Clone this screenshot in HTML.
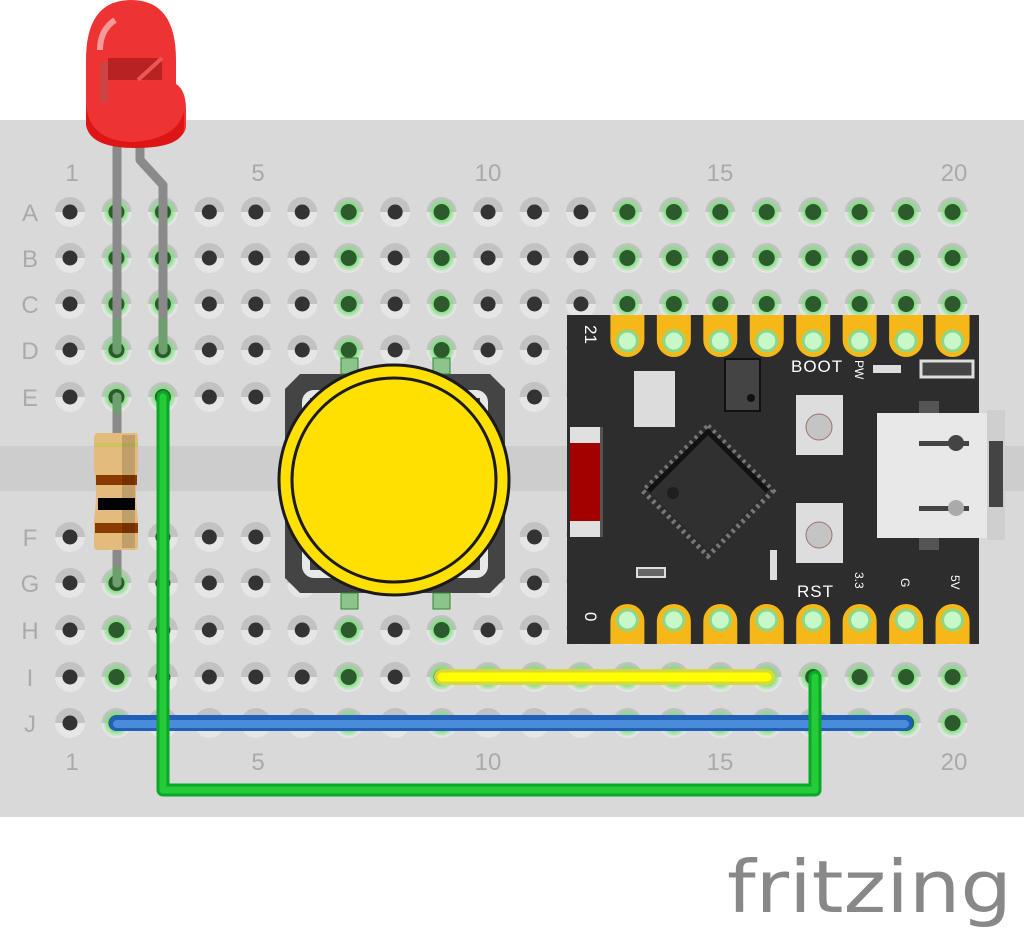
<!DOCTYPE html>
<html><head><meta charset="utf-8"><style>
html,body{margin:0;padding:0;background:#fff;width:1024px;height:936px;overflow:hidden}
svg{display:block}
</style></head><body>
<svg id="s" width="1024" height="936" viewBox="0 0 1024 936" xmlns="http://www.w3.org/2000/svg" font-family="Liberation Sans, DejaVu Sans, sans-serif">
<defs>
<linearGradient id="hg" x1="0" y1="0" x2="0" y2="1"><stop offset="0.5" stop-color="#c2c2c2"/><stop offset="0.5" stop-color="#e6e6e6"/></linearGradient>
<radialGradient id="gg"><stop offset="0.55" stop-color="#7ee07e"/><stop offset="1" stop-color="#7ee07e" stop-opacity="0"/></radialGradient>
</defs>
<rect x="0" y="120" width="1024" height="697" fill="#d9d9d9"/>
<rect x="0" y="446" width="1024" height="45" fill="#cdcdcd"/>
<g id="holes"></g>
<g fill="#aaaaaa" font-size="24" text-anchor="middle" id="labels">
<text x="72" y="181">1</text><text x="258" y="181">5</text><text x="488" y="181">10</text><text x="720" y="181">15</text><text x="954" y="181">20</text>
<text x="72" y="770">1</text><text x="258" y="770">5</text><text x="488" y="770">10</text><text x="720" y="770">15</text><text x="954" y="770">20</text>
<text x="30" y="221">A</text><text x="30" y="267">B</text><text x="30" y="313">C</text><text x="30" y="359">D</text><text x="30" y="406">E</text>
<text x="30" y="546">F</text><text x="30" y="592">G</text><text x="30" y="639">H</text><text x="30" y="686">I</text><text x="30" y="732">J</text>
</g>

<!-- button -->
<path d="M300 374 H490 L505 389 V578 L490 593 H300 L285 578 V389 Z" fill="#444"/>
<rect x="302" y="390" width="186" height="188" rx="12" fill="#e8e8e8"/>
<rect x="310" y="398" width="170" height="172" fill="#444"/>
<rect x="341" y="358" width="17" height="16" fill="#8cc48c" stroke="#2c8c2c" stroke-width="1"/>
<rect x="433" y="358" width="17" height="16" fill="#8cc48c" stroke="#2c8c2c" stroke-width="1"/>
<rect x="341" y="593" width="17" height="16" fill="#8cc48c" stroke="#2c8c2c" stroke-width="1"/>
<rect x="433" y="593" width="17" height="16" fill="#8cc48c" stroke="#2c8c2c" stroke-width="1"/>
<circle cx="394" cy="480" r="115" fill="#ffe000" stroke="#1a1a1a" stroke-width="3"/>
<circle cx="394" cy="480" r="102" fill="#ffe000" stroke="#1a1a1a" stroke-width="3"/>

<!-- board -->
<rect x="567" y="315" width="412" height="329" fill="#2d2d2d"/>
<g id="pads"></g>
<rect x="570" y="427" width="30" height="110" fill="#e0e0e0"/>
<rect x="570" y="443" width="30" height="78" fill="#a30000"/>
<rect x="600" y="427" width="3" height="110" fill="#555"/>
<rect x="634" y="371" width="41" height="56" fill="#dcdcdc"/>
<rect x="725" y="359" width="35" height="52" fill="#444" stroke="#111" stroke-width="2"/>
<circle cx="751" cy="398" r="4" fill="#111"/>
<g transform="rotate(45 708 491)">
<rect x="662" y="445" width="92" height="92" fill="#2a2a2a" stroke="#777" stroke-width="5" stroke-dasharray="3 4"/>
<rect x="666" y="449" width="84" height="84" fill="#303030"/>
<path d="M666 533 V449 H750" stroke="#111" stroke-width="5" fill="none"/>
</g>
<circle cx="673" cy="493" r="6" fill="#1e1e1e"/>
<rect x="796" y="395" width="47" height="60" fill="#ddd"/>
<circle cx="819" cy="427" r="13" fill="#c4c4c4" stroke="#a07070" stroke-width="1"/>
<rect x="796" y="503" width="47" height="60" fill="#ddd"/>
<circle cx="819" cy="535" r="13" fill="#c4c4c4" stroke="#a07070" stroke-width="1"/>
<rect x="919" y="401" width="20" height="14" fill="#555"/>
<rect x="919" y="536" width="20" height="14" fill="#555"/>
<rect x="877" y="413" width="112" height="125" fill="#e8e8e8"/>
<rect x="987" y="410" width="18" height="130" fill="#cfcfcf"/>
<rect x="989" y="441" width="14" height="66" fill="#444"/>
<rect x="919" y="441" width="50" height="5" fill="#444"/>
<rect x="919" y="506" width="50" height="5" fill="#444"/>
<circle cx="956" cy="443" r="8" fill="#444"/><circle cx="956" cy="508" r="8" fill="#aaa"/>
<rect x="873" y="365" width="28" height="8" fill="#ddd"/>
<rect x="921" y="361" width="52" height="16" fill="#444" stroke="#ddd" stroke-width="3"/>
<rect x="637" y="568" width="28" height="9" fill="#666" stroke="#ddd" stroke-width="2"/>
<rect x="770" y="550" width="7" height="30" fill="#ddd"/>
<g fill="#fff" font-size="17">
<text x="791" y="372" letter-spacing="1">BOOT</text>
<text x="797" y="597" letter-spacing="1">RST</text>
<text transform="translate(585,325) rotate(90)" font-size="17">21</text>
<text transform="translate(585,612) rotate(90)" font-size="17">0</text>
<text transform="translate(855,572) rotate(90)" font-size="12">3.3</text>
<text transform="translate(901,578) rotate(90)" font-size="12">G</text>
<text transform="translate(951,575) rotate(90)" font-size="12">5V</text>
<text transform="translate(855,360) rotate(90)" font-size="12">PW</text>
</g>

<!-- LED legs -->
<g stroke-linecap="round" fill="none">
<path d="M117 140 V350" stroke="#8a8a8a" stroke-width="9"/>
<path d="M140 140 V160 L163 185 V350" stroke="#8a8a8a" stroke-width="9" stroke-linejoin="round"/>
<path d="M117 322 V350" stroke="#6e9f6e" stroke-width="9"/>
<path d="M163 322 V350" stroke="#6e9f6e" stroke-width="9"/>
<path d="M117 397 V583" stroke="#8a8a8a" stroke-width="9"/>
<path d="M117 397 V410" stroke="#6e9f6e" stroke-width="9"/>
<path d="M117 570 V583" stroke="#6e9f6e" stroke-width="9"/>
</g>
<!-- resistor -->
<path d="M97 433 H136 Q138 433 138 440 V470 Q134 490 138 520 V546 Q138 550 134 550 H98 Q94 550 94 546 V520 Q98 490 94 470 V440 Q94 433 97 433Z" fill="#e3bb7d"/>
<rect x="95" y="443" width="43" height="4" fill="#cfc060"/>
<rect x="96" y="475" width="41" height="10" fill="#8a3a00"/>
<rect x="98" y="498" width="37" height="12" fill="#000"/>
<rect x="95" y="523" width="43" height="10" fill="#8a3a00"/>
<rect x="122" y="435" width="13" height="113" fill="#000" opacity="0.15"/>

<!-- LED -->
<path d="M86 60 Q86 0 131 0 Q176 0 176 60 V84 Q186 90 186 110 V125 Q186 145 140 147 Q95 148 86 125 Z" fill="#e33"/>
<path d="M86 100 Q86 140 131 142 Q176 140 184 112 V130 Q180 148 135 148 Q90 148 86 125Z" fill="#dd1515"/>
<path d="M100 50 Q100 30 115 20" stroke="#f59a9a" stroke-width="6" fill="none"/>
<rect x="108" y="58" width="54" height="22" fill="#b82222"/>
<rect x="100" y="62" width="8" height="40" fill="#c44"/>
<path d="M138 80 L162 58" stroke="#e55" stroke-width="4"/>

<!-- wires -->
<g stroke-linecap="round" fill="none" stroke-linejoin="round">
<path d="M442 677 H767" stroke="#d8d83a" stroke-width="16"/>
<path d="M442 677 H767" stroke="#ffff00" stroke-width="9"/>
<path d="M117 723 H905" stroke="#2060b8" stroke-width="16"/>
<path d="M117 724 H905" stroke="#4a8cd8" stroke-width="8"/>
<path d="M163 397 V790 H815 V677" stroke="#0aa828" stroke-width="13"/>
<path d="M163 397 V790 H815 V677" stroke="#25cc3a" stroke-width="7"/>
</g>

<text x="727" y="912" font-size="72" fill="#888" textLength="285" lengthAdjust="spacingAndGlyphs" font-family="DejaVu Sans, Liberation Sans, sans-serif">fritzing</text>
</svg>
<script>
(function(){
var ns="http://www.w3.org/2000/svg";
var rows=[212,258,304,350,397,537,583,630,677,723];
var g=document.getElementById('holes');
function green(c,r){
 if(c==2||c==9) {if(r<5) return true; return r>=6;}
 if(c==3) return r<5;
 if(c==7) return r<5||r>=7;
 if(c>=13) return r<3||r>=7;
 if(r==8 && c>=10 && c<=16) return true;
 return false;
}
function el(t,a){var e=document.createElementNS(ns,t);for(var k in a)e.setAttribute(k,a[k]);g.appendChild(e);return e;}
for(var c=1;c<=20;c++){var x=70+(c-1)*46.45;
 for(var r=0;r<10;r++){var y=rows[r];
  el('circle',{cx:x,cy:y,r:15,fill:'url(#hg)'});
  if(green(c,r)){el('circle',{cx:x,cy:y,r:14,fill:'url(#gg)'});el('circle',{cx:x,cy:y,r:8,fill:'#2c5a2c'});}
  else el('circle',{cx:x,cy:y,r:7.5,fill:'#333'});
 }}
var p=document.getElementById('pads');
function pe(t,a){var e=document.createElementNS(ns,t);for(var k in a)e.setAttribute(k,a[k]);p.appendChild(e);}
for(var c=13;c<=20;c++){var x=70+(c-1)*46.45;
 pe('path',{d:'M'+(x-17)+' 315 V340 A17 17 0 0 0 '+(x+17)+' 340 V315Z',fill:'#f5b818'});
 pe('circle',{cx:x,cy:341,r:10,fill:'#c8f7c8',stroke:'#8bd88b','stroke-width':3});
 pe('path',{d:'M'+(x-17)+' 644 V621 A17 17 0 0 1 '+(x+17)+' 621 V644Z',fill:'#f5b818'});
 pe('circle',{cx:x,cy:620,r:10,fill:'#c8f7c8',stroke:'#8bd88b','stroke-width':3});
}
})();
</script>
</body></html>
